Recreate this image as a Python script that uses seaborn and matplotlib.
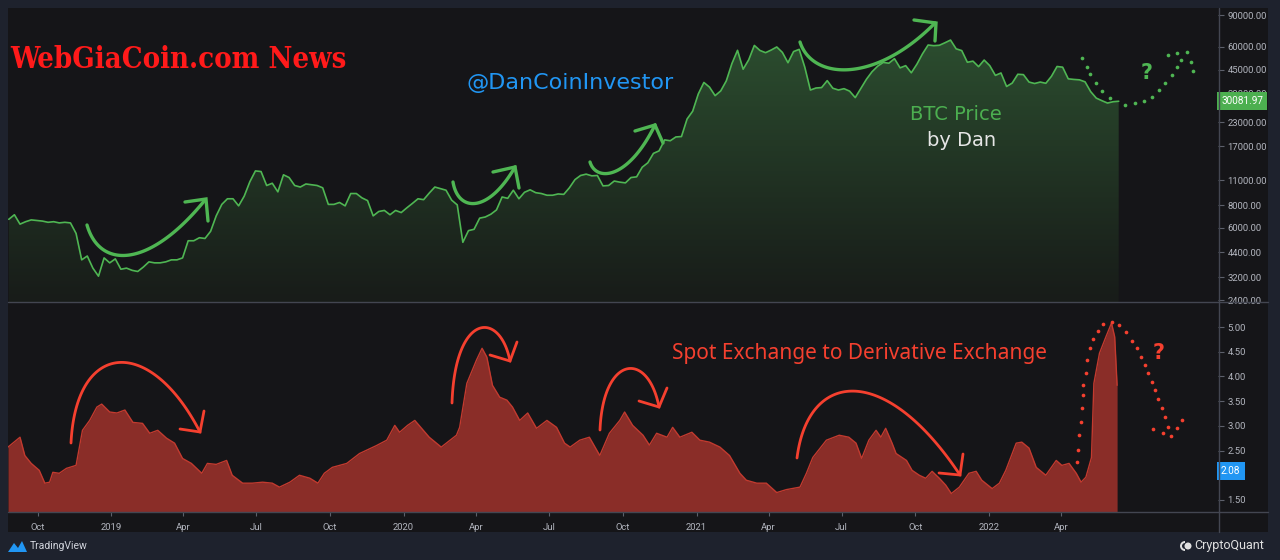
import numpy as np
import pandas as pd
import matplotlib
matplotlib.use("Agg")
import matplotlib.pyplot as plt
import seaborn as sns
from matplotlib.lines import Line2D
from matplotlib.patches import Rectangle, Polygon, Circle, Wedge
from matplotlib.transforms import blended_transform_factory
from matplotlib.ticker import FixedLocator, NullLocator, FuncFormatter

# ---------------- DATA ----------------
price_start = "2018-08-26"  # weekly closes
price_2018 = [6700, 7100, 6300, 6500, 6650, 6600, 6550, 6450, 6500, 6400, 6450, 6400,
              5600, 4000, 4200, 3600, 3250, 4100, 3850]
price_2019 = [4050, 3550, 3600, 3500, 3450, 3650, 3900, 3850, 3850, 3900, 4000, 4000,
              4100, 5100, 5100, 5300, 5250, 5750, 7000, 8100, 8700, 8700, 7950, 9000,
              10800, 12400, 12300, 10300, 10600, 9500, 11800, 11400, 10300, 10100, 10500,
              10400, 10300, 10000, 8100, 8100, 8300, 7950, 9300, 9300, 8800, 8500, 7000,
              7400, 7500, 7100, 7500, 7300]
price_2020 = [7750, 8200, 8700, 8600, 9350, 10100, 9900, 9700, 8550, 8050, 5000, 5800,
              5900, 6800, 6900, 7150, 7550, 8900, 8750, 9700, 8700, 9450, 9750, 9400,
              9300, 9100, 9100, 9250, 9200, 10000, 11100, 11700, 11900, 11650, 11700,
              10250, 10300, 10900, 10750, 10650, 11400, 11500, 13000, 13750, 15500,
              16000, 18400, 18200, 19100, 19200, 24000, 26500]
price_2021 = [33000, 38200, 36000, 32300, 34300, 39000, 48600, 57500, 45200, 51000,
              61200, 57400, 55800, 57700, 60000, 56000, 49100, 56600, 58200, 46400,
              34700, 35600, 35800, 39100, 35500, 34700, 35300, 34200, 31500, 35400,
              39800, 43800, 47000, 49300, 48800, 51700, 46000, 47300, 43200, 48200,
              55000, 61500, 61000, 61300, 63300, 65500, 58600, 57300, 49400, 50100,
              46700, 50800]
price_2022 = [47300, 41800, 43100, 36300, 37900, 42400, 42200, 38400, 37700, 38400,
              37800, 41300, 46800, 46400, 40000, 39700, 39500, 38500, 34000, 31300,
              30300, 29400, 29900, 30081.97]

ratio_dates = [
    "2018-08-25", "2018-09-09", "2018-09-15", "2018-09-23", "2018-10-03", "2018-10-10",
    "2018-10-16", "2018-10-20", "2018-10-28", "2018-11-06", "2018-11-18", "2018-11-26",
    "2018-12-05", "2018-12-14", "2018-12-20", "2018-12-30", "2019-01-08", "2019-01-18",
    "2019-01-28", "2019-02-09", "2019-02-18", "2019-02-28", "2019-03-11", "2019-03-21",
    "2019-03-31", "2019-04-11", "2019-04-24", "2019-05-01", "2019-05-12", "2019-05-25",
    "2019-06-01", "2019-06-14", "2019-06-26", "2019-07-09", "2019-07-21", "2019-07-30",
    "2019-08-12", "2019-08-24", "2019-09-06", "2019-09-16", "2019-09-24", "2019-10-04",
    "2019-10-22", "2019-11-07", "2019-11-28", "2019-12-11", "2019-12-21", "2019-12-27",
    "2020-01-06", "2020-01-15", "2020-02-02", "2020-02-17", "2020-03-07", "2020-03-11",
    "2020-03-20", "2020-04-01", "2020-04-08", "2020-04-14", "2020-04-21", "2020-04-30",
    "2020-05-09", "2020-05-16", "2020-05-25", "2020-06-04", "2020-06-15", "2020-06-28",
    "2020-07-10", "2020-07-20", "2020-07-27", "2020-08-08", "2020-08-20", "2020-09-02",
    "2020-09-14", "2020-09-27", "2020-10-03", "2020-10-13", "2020-10-26", "2020-11-03",
    "2020-11-12", "2020-11-25", "2020-12-02", "2020-12-11", "2020-12-26", "2021-01-05",
    "2021-01-17", "2021-01-30", "2021-02-11", "2021-02-24", "2021-03-04", "2021-03-17",
    "2021-03-29", "2021-04-11", "2021-04-23", "2021-05-10", "2021-05-18", "2021-05-26",
    "2021-06-12", "2021-06-28", "2021-07-10", "2021-07-19", "2021-07-26", "2021-08-04",
    "2021-08-13", "2021-08-19", "2021-08-25", "2021-09-02", "2021-09-07", "2021-09-20",
    "2021-09-27", "2021-10-06", "2021-10-14", "2021-10-22", "2021-10-31", "2021-11-08",
    "2021-11-15", "2021-11-25", "2021-12-07", "2021-12-16", "2021-12-23", "2022-01-05",
    "2022-01-14", "2022-01-22", "2022-02-04", "2022-02-11", "2022-02-20", "2022-03-01",
    "2022-03-13", "2022-03-26", "2022-04-02", "2022-04-11", "2022-04-20", "2022-04-26",
    "2022-05-02", "2022-05-09", "2022-05-12", "2022-05-19", "2022-05-27", "2022-06-03",
    "2022-06-07", "2022-06-10"]
ratio_values = [
    2.57, 2.77, 2.40, 2.24, 2.10, 1.84, 1.86, 2.06, 2.04, 2.14, 2.20, 2.91,
    3.11, 3.38, 3.44, 3.28, 3.26, 3.32, 3.07, 3.05, 2.85, 2.91, 2.75, 2.65,
    2.34, 2.24, 2.04, 2.24, 2.22, 2.30, 2.00, 1.84, 1.84, 1.86, 1.84, 1.76,
    1.86, 2.00, 1.94, 1.84, 2.04, 2.16, 2.24, 2.44, 2.60, 2.71, 3.01, 2.87,
    3.01, 3.11, 2.77, 2.57, 2.81, 2.97, 3.86, 4.33, 4.57, 4.39, 3.82, 3.58,
    3.52, 3.38, 3.11, 3.26, 2.95, 3.11, 2.97, 2.65, 2.57, 2.71, 2.77, 2.40,
    2.85, 3.11, 3.28, 3.01, 2.81, 2.61, 2.85, 2.77, 2.97, 2.77, 2.87, 2.71,
    2.67, 2.57, 2.40, 2.04, 1.90, 1.84, 1.84, 1.65, 1.71, 1.76, 2.04, 2.36,
    2.71, 2.81, 2.77, 2.65, 2.34, 2.71, 2.91, 2.77, 2.95, 2.65, 2.44, 2.30,
    2.10, 2.00, 1.94, 2.08, 1.94, 1.80, 1.63, 1.76, 2.04, 2.08, 1.90, 1.73,
    1.84, 2.10, 2.65, 2.67, 2.55, 2.16, 2.00, 2.30, 2.20, 2.24, 2.04, 1.86,
    1.96, 2.36, 3.86, 4.47, 4.80, 5.08, 4.80, 3.82]

price_ticks = [2400, 3200, 4400, 6000, 8000, 11000, 17000, 23000, 33000, 45000, 60000, 90000]
ratio_ticks = [1.5, 2.0, 2.5, 3.0, 3.5, 4.0, 4.5, 5.0]
x_tick_dates = ["2018-10-01", "2019-01-01", "2019-04-01", "2019-07-01", "2019-10-01",
                "2020-01-01", "2020-04-01", "2020-07-01", "2020-10-01", "2021-01-01",
                "2021-04-01", "2021-07-01", "2021-10-01", "2022-01-01", "2022-04-01"]
x_tick_labels = ["Oct", "2019", "Apr", "Jul", "Oct", "2020", "Apr", "Jul", "Oct",
                 "2021", "Apr", "Jul", "Oct", "2022", "Apr"]
last_price = 30081.97
last_ratio_label = 2.08

# ---------------- STYLE ----------------
sns.set_theme(style="dark")
plt.rcParams["font.family"] = ["DejaVu Sans"]

W, H = 1280, 560
BG_OUT = "#1e222d"
BG_CH = "#151518"
GRID_C = "#434651"
TXT_C = "#b2b5be"
GREEN = "#4fb653"
RED_ANN = "#f5402f"

fig = plt.figure(figsize=(12.8, 5.6), dpi=100)
fig.patch.set_facecolor(BG_OUT)

def fx(p):
    return p / W

def fy(p):
    return 1 - p / H

fig.patches.append(Rectangle((fx(8), fy(532)), 1260 / W, 524 / H,
                             transform=fig.transFigure, fc=BG_CH, ec="none", zorder=-5))

ax1 = fig.add_axes([fx(8), fy(302), 1210 / W, 294 / H])
ax2 = fig.add_axes([fx(8), fy(512), 1210 / W, 210 / H], sharex=ax1)
for ax in (ax1, ax2):
    ax.set_facecolor(BG_CH)
    for s in ax.spines.values():
        s.set_visible(False)
    ax.grid(False)

# ---------------- PRICE PANEL ----------------
prices = price_2018 + price_2019 + price_2020 + price_2021 + price_2022
price_df = pd.DataFrame({
    "date": pd.date_range(price_start, periods=len(prices), freq="7D"),
    "price": prices})
ax1.set_yscale("log")
ymin1, ymax1 = 2340, 98500
ax1.set_ylim(ymin1, ymax1)
poly = ax1.fill_between(price_df["date"], price_df["price"], ymin1, color="none", lw=0)
grad = np.linspace(0, 1, 256).reshape(-1, 1)
c_top = np.array([46, 84, 50]) / 255
c_bot = np.array([24, 28, 25]) / 255
img = c_bot + (c_top - c_bot) * grad[..., None] ** 1.1
im = ax1.imshow(img, extent=[0, 1, 0, 1], transform=ax1.transAxes, aspect="auto",
                origin="lower", zorder=1)
im.set_clip_path(poly.get_paths()[0], transform=ax1.transData)
sns.lineplot(data=price_df, x="date", y="price", ax=ax1, color=GREEN, linewidth=1.2, zorder=3)

ax1.yaxis.tick_right()
ax1.yaxis.set_major_locator(FixedLocator(price_ticks))
ax1.yaxis.set_minor_locator(NullLocator())
ax1.yaxis.set_major_formatter(FuncFormatter(lambda v, p: f"{v:.2f}"))
ax1.set_xlabel("")
ax1.set_ylabel("")
ax1.tick_params(axis="y", which="both", right=True, left=False, length=4, width=0.8,
                color="#5d606b", labelcolor=TXT_C, labelsize=6.8, pad=3)
ax1.tick_params(axis="x", which="both", bottom=False, labelbottom=False)
for lab in ax1.get_yticklabels():
    lab.set_fontfamily("Roboto")

btrans1 = blended_transform_factory(ax1.transAxes, ax1.transData)
ax1.text(1.0025, last_price, "30081.97", transform=btrans1, ha="left", va="center",
         fontsize=7.2, color="white", family="Roboto", zorder=10,
         bbox=dict(boxstyle="square,pad=0.4", fc="#4caf50", ec="none"))

# ---------------- RATIO PANEL ----------------
ratio_df = pd.DataFrame({"date": pd.to_datetime(ratio_dates), "ratio": ratio_values})
ymin2, ymax2 = 1.257, 5.506
ax2.set_ylim(ymin2, ymax2)
ax2.fill_between(ratio_df["date"], ratio_df["ratio"], ymin2, color="#8a2d28", lw=0, zorder=1)
sns.lineplot(data=ratio_df, x="date", y="ratio", ax=ax2, color="#c23a2f", linewidth=1.0, zorder=3)
ax2.yaxis.tick_right()
ax2.yaxis.set_major_locator(FixedLocator(ratio_ticks))
ax2.yaxis.set_major_formatter(FuncFormatter(lambda v, p: f"{v:.2f}"))
ax2.set_xlabel("")
ax2.set_ylabel("")
ax2.tick_params(axis="y", which="both", right=True, left=False, length=4, width=0.8,
                color="#5d606b", labelcolor=TXT_C, labelsize=6.8, pad=3)
ax2.set_xticks(matplotlib.dates.date2num(pd.to_datetime(x_tick_dates)))
ax2.set_xticklabels(x_tick_labels)
ax2.tick_params(axis="x", which="both", bottom=True, length=3, width=0.8, color="#5d606b",
                labelcolor=TXT_C, labelsize=6.8, pad=5)
for lab in ax2.get_yticklabels() + ax2.get_xticklabels():
    lab.set_fontfamily("Roboto")
ax2.set_xlim(pd.Timestamp("2018-08-25"), pd.Timestamp("2022-10-14"))

btrans2 = blended_transform_factory(ax2.transAxes, ax2.transData)
ax2.text(1.0025, last_ratio_label, "2.08", transform=btrans2, ha="left", va="center",
         fontsize=7.2, color="white", family="Roboto", zorder=10,
         bbox=dict(boxstyle="square,pad=0.4", fc="#2196f3", ec="none"))

# ---------------- SEPARATORS ----------------
for (x0, y0, x1, y1) in [(8, 302, 1268, 302), (8, 512, 1268, 512), (1219, 8, 1219, 532)]:
    fig.add_artist(Line2D([fx(x0), fx(x1)], [fy(y0), fy(y1)], color=GRID_C, lw=1.0,
                          transform=fig.transFigure, zorder=5))

# ---------------- ANNOTATION OVERLAY (pixel space) ----------------
ov = fig.add_axes([0, 0, 1, 1], zorder=20)
ov.set_xlim(0, W)
ov.set_ylim(H, 0)
ov.axis("off")
ov.patch.set_alpha(0)

def bez(p0, p1, p2, p3, n=80):
    t = np.linspace(0, 1, n)[:, None]
    p0, p1, p2, p3 = map(np.array, (p0, p1, p2, p3))
    pts = (1 - t) ** 3 * p0 + 3 * (1 - t) ** 2 * t * p1 + 3 * (1 - t) * t ** 2 * p2 + t ** 3 * p3
    return pts[:, 0], pts[:, 1]

def arrow(curve, head, color, lw):
    xs, ys = bez(*curve)
    ov.plot(xs, ys, color=color, lw=lw, solid_capstyle="round")
    hx = [head[0][0], head[1][0], head[2][0]]
    hy = [head[0][1], head[1][1], head[2][1]]
    ov.plot(hx, hy, color=color, lw=lw, solid_capstyle="round", solid_joinstyle="miter")

G_LW, R_LW = 2.4, 2.0
arrow(((87, 225), (100, 270), (150, 268), (205, 200)), ((185, 202), (206, 199), (208, 221)), GREEN, G_LW)
arrow(((453, 182), (458, 212), (488, 214), (515, 167)), ((493, 172), (515, 167), (519, 188)), GREEN, G_LW)
arrow(((590, 162), (596, 182), (628, 180), (655, 125)), ((635, 131), (655, 125), (663, 143)), GREEN, G_LW)
arrow(((800, 42), (812, 80), (875, 84), (935, 23)), ((914, 20), (936, 23), (935, 41)), GREEN, G_LW)

arrow(((71, 443), (76, 340), (150, 335), (200, 432)), ((180, 429), (200, 432), (204, 411)), RED_ANN, R_LW)
arrow(((452, 403), (455, 312), (500, 310), (510, 361)), ((490, 355), (510, 361), (517, 342)), RED_ANN, R_LW)
arrow(((600, 430), (603, 355), (648, 350), (659, 407)), ((639, 401), (659, 407), (667, 388)), RED_ANN, R_LW)
arrow(((797, 458), (808, 370), (885, 362), (960, 475)), ((939, 473), (960, 475), (963, 454)), RED_ANN, R_LW)

g_dots_x = [1082, 1087, 1090, 1096, 1102, 1110, 1125, 1135, 1144, 1152, 1159, 1165, 1172,
            1177, 1181, 1187, 1168, 1177, 1191, 1193]
g_dots_y = [58, 67, 74, 83, 91, 98, 105, 103, 101, 97, 90, 83, 75, 67, 60, 52, 55, 53, 62, 71]
ov.scatter(g_dots_x, g_dots_y, s=7, color=GREEN, lw=0)

r_dots_x = [1076.7, 1077.7, 1079.3, 1081, 1082, 1082.7, 1083.3, 1085.7, 1087.3, 1090, 1093.3,
            1097.7, 1102.7, 1111.7, 1119.3, 1126, 1131.7, 1136.7, 1140.7, 1145, 1148.3,
            1151.7, 1155, 1158.3, 1161.7, 1165, 1168.3, 1170.7, 1153.3, 1162.7, 1176.7, 1181.7]
r_dots_y = [461.7, 450, 435, 421.7, 408.3, 395, 385, 373.3, 360, 348.3, 339.3, 330.7, 324,
            321.7, 325, 332.3, 340.7, 348.3, 356.7, 365, 373.3, 381.7, 390, 399.3, 408.3,
            417.3, 426.7, 436, 429.3, 433.3, 428.3, 420]
ov.scatter(r_dots_x, r_dots_y, s=7, color=RED_ANN, lw=0)

ov.text(1147, 73, "?", color=GREEN, fontsize=15, fontweight="bold", ha="center", va="center")
ov.text(1159, 353, "?", color=RED_ANN, fontsize=15, fontweight="bold", ha="center", va="center")

# ---------------- TEXTS ----------------
ov.text(10, 59, "WebGiaCoin.com News", color="#ff1a1a", fontsize=21, fontweight="heavy",
        family="DejaVu Serif", fontstretch="condensed", ha="left", va="center")
ov.text(466, 83, "@DanCoinInvestor", color="#2196f3", fontsize=16, family="DejaVu Sans",
        ha="left", va="center")
ov.text(956, 114, "BTC Price", color="#4caf50", fontsize=14, family="DejaVu Sans",
        ha="center", va="center")
ov.text(962, 140, "by Dan", color="#e6e6e6", fontsize=14, family="DejaVu Sans",
        ha="center", va="center")
ov.text(672, 353, "Spot Exchange to Derivative Exchange", color=RED_ANN, fontsize=15,
        family="Noto Sans", ha="left", va="center")

# footer
ov.add_patch(Polygon([(8, 552), (14, 543), (18, 548), (22, 541), (27, 552)], closed=True,
                     fc="#2196f3", ec="none"))
ov.text(30, 546, "TradingView", color="#d1d4dc", fontsize=7.5, family="Roboto",
        ha="left", va="center")
ov.add_patch(Wedge((1185, 546), 5, 90, 270, width=2, fc="#e0e0e0", ec="none"))
ov.add_patch(Circle((1188, 546), 3.5, fc="#e0e0e0", ec="none"))
ov.text(1194, 546, "CryptoQuant", color="#e0e0e0", fontsize=9, family="Roboto",
        ha="left", va="center")

fig.savefig("out.png", dpi=100, facecolor=fig.get_facecolor())
